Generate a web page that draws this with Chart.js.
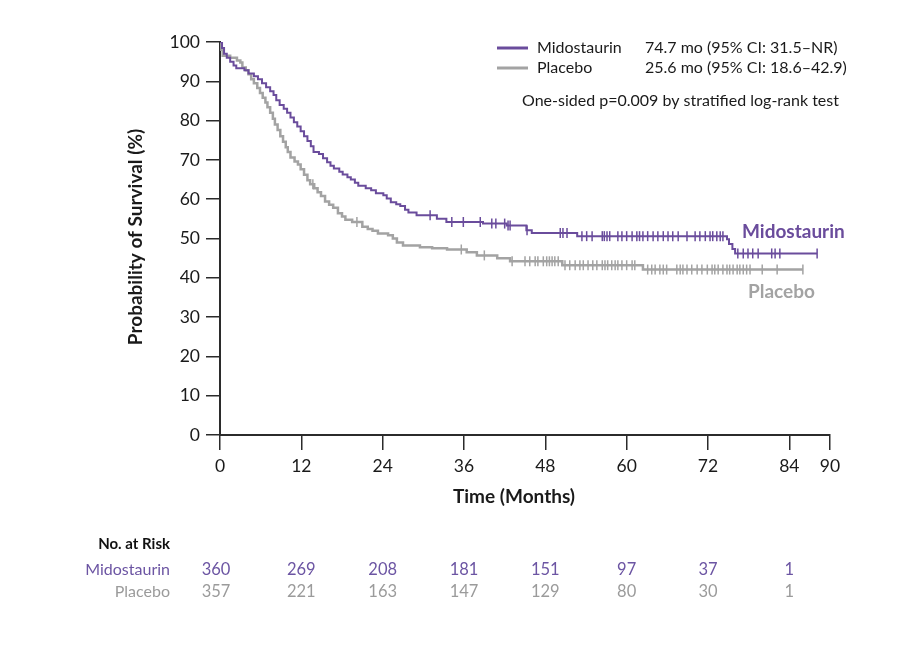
<!DOCTYPE html>
<html>
<head>
<meta charset="utf-8">
<script src="https://cdn.jsdelivr.net/npm/chart.js@4.4.1/dist/chart.umd.min.js"></script>
<style>
  html, body { margin: 0; padding: 0; background: #ffffff; }
  #wrap { width: 902px; height: 656px; position: relative; }
</style>
</head>
<body>
<div id="wrap"><canvas id="c" width="902" height="656"></canvas></div>
<script>
// ---- Data ----
const seriesNames = ["Midostaurin", "Placebo"];
const medianText = ["74.7 mo (95% CI: 31.5\u2013NR)", "25.6 mo (95% CI: 18.6\u201342.9)"];
const pText = "One-sided p=0.009 by stratified log-rank test";

// Kaplan-Meier steps: time (months) and survival (%) after each drop
const midoT = [0,0.3,0.6,1.0,1.5,2.0,2.4,3.6,4.2,5.0,5.6,6.2,6.8,7.4,7.9,8.3,8.8,9.4,9.9,10.4,10.9,11.4,11.9,12.4,12.9,13.4,13.8,14.6,15.2,15.8,16.3,16.8,17.6,18.1,18.8,19.3,19.9,20.4,21.5,22.3,23.0,24.1,24.6,25.2,26.0,26.6,27.3,27.8,29.0,32.0,33.4,38.8,42.3,45.2,46.0,52.7,74.8,75.1,75.6,76.0,88.1];
const midoS = [100,98.5,97,96,95,94,93.3,92.8,92,91.3,90.5,89.5,88.5,87.5,86.5,85.2,84,83,82,80.8,79.6,78.5,77.3,76,74.8,73.5,72,71.5,70.4,69.4,68.5,67.8,67,66.3,65.6,65,64.2,63.4,62.8,62.3,61.5,61,60.2,59.2,58.7,58.3,57.3,56.6,55.9,55.0,54.2,53.8,53.3,52.1,51.4,50.6,49.8,48.6,47.3,46.2,46.2];

const placT = [0,0.2,0.4,1.5,2.5,3.0,3.3,3.8,4.2,4.6,5.0,5.5,5.9,6.3,6.7,7.0,7.4,7.8,8.1,8.5,8.9,9.3,9.7,10.0,10.4,11.0,11.5,11.9,12.4,12.9,13.3,13.9,14.4,14.9,15.5,16.1,16.7,17.4,18.0,18.5,19.5,21.0,21.8,22.5,23.3,24.8,25.5,26.1,27.0,29.5,31.3,33.5,36.4,37.9,40.9,42.8,50.5,62.4,86.0];
const placS = [100,98,96.5,96,95.3,94.8,93.5,92.8,91.8,90.5,89.5,88.3,87,85.8,84.6,83.4,82,80.5,79,77.6,76,74.6,73.2,72,70.6,69.6,68.8,67.6,66.2,64.8,63.8,62.8,61.8,60.8,59.4,58.6,57.8,56.4,55.6,54.8,54.2,53.0,52.4,52.0,51.3,50.8,50.0,49.0,48.2,47.8,47.5,47.2,46.5,45.7,45.0,44.2,43.2,42.1,42.1];

// Censor marks: time and survival level
const midoCensT = [31.0,34.2,35.9,38.4,40.1,40.7,42.0,42.5,42.8,45.3,50.2,50.6,51.2,53.4,54.1,54.9,56.4,56.7,57.1,57.5,58.7,59.3,60.0,60.8,61.5,61.9,62.4,63.1,63.9,64.6,65.4,66.1,66.8,67.6,68.9,70.1,70.8,71.6,72.3,72.7,73.3,73.8,74.2,76.4,77.2,77.9,78.6,79.4,81.4,81.9,82.6,88.1];
const midoCensS = [55.9,54.2,54.2,54.2,53.8,53.8,53.8,53.3,53.3,52.1,51.4,51.4,51.4,50.6,50.6,50.6,50.6,50.6,50.6,50.6,50.6,50.6,50.6,50.6,50.6,50.6,50.6,50.6,50.6,50.6,50.6,50.6,50.6,50.6,50.6,50.6,50.6,50.6,50.6,50.6,50.6,50.6,50.6,46.2,46.2,46.2,46.2,46.2,46.2,46.2,46.2,46.2];

const placCensT = [13.7,20.2,35.6,39.0,43.1,45.0,45.7,46.5,46.9,47.7,48.2,48.6,49.0,49.4,49.9,50.9,51.6,52.4,53.1,53.6,54.3,55.0,55.6,56.4,56.8,57.2,57.8,58.3,58.7,59.3,60.0,60.8,61.2,63.1,63.7,64.2,64.9,65.4,65.9,67.4,67.9,68.3,68.9,69.6,70.4,71.1,71.9,72.6,73.0,73.5,74.2,74.8,75.2,75.7,76.3,76.7,77.2,77.7,78.2,80.0,82.2,86.0];
const placCensS = [63.8,54.2,47.2,45.7,44.2,44.2,44.2,44.2,44.2,44.2,44.2,44.2,44.2,44.2,44.2,43.2,43.2,43.2,43.2,43.2,43.2,43.2,43.2,43.2,43.2,43.2,43.2,43.2,43.2,43.2,43.2,43.2,43.2,42.1,42.1,42.1,42.1,42.1,42.1,42.1,42.1,42.1,42.1,42.1,42.1,42.1,42.1,42.1,42.1,42.1,42.1,42.1,42.1,42.1,42.1,42.1,42.1,42.1,42.1,42.1,42.1,42.1];

const xTicks = [0,12,24,36,48,60,72,84,90];
const riskTimes = [0,12,24,36,48,60,72,84];
const midoRisk = [360,269,208,181,151,97,37,1];
const placRisk = [357,221,163,147,129,80,30,1];

// ---- Styling ----
const PURPLE = "#6a4c9c";
const GRAY = "#a3a3a3";
const PURPLE_TXT = "#6c55a3";
const GRAY_TXT = "#9b9b9b";
const AXIS = "#2b2b2b";
const FONT = "Lato, 'Open Sans', sans-serif";

const zip = (a, b) => a.map((v, i) => ({ x: v, y: b[i] }));

const annotations = {
  id: "annotations",
  afterDraw(chart) {
    const ctx = chart.ctx;
    const xs = chart.scales.x;
    ctx.save();
    // axis titles
    ctx.fillStyle = "#1a1a1a";
    ctx.font = "bold 19px " + FONT;
    ctx.textAlign = "center";
    ctx.textBaseline = "middle";
    ctx.fillText("Time (Months)", 514, 497);
    ctx.save();
    ctx.translate(136, 237);
    ctx.rotate(-Math.PI / 2);
    ctx.fillText("Probability of Survival (%)", 0, 0);
    ctx.restore();

    // legend
    const legY = [48, 68];
    const legCol = [PURPLE, GRAY];
    for (let i = 0; i < 2; i++) {
      ctx.strokeStyle = legCol[i];
      ctx.lineWidth = 3;
      ctx.beginPath();
      ctx.moveTo(497, legY[i]);
      ctx.lineTo(528, legY[i]);
      ctx.stroke();
      ctx.fillStyle = "#1a1a1a";
      ctx.font = "16px " + FONT;
      ctx.textAlign = "left";
      ctx.fillText(seriesNames[i], 537, legY[i]);
      ctx.fillText(medianText[i], 645, legY[i]);
    }
    ctx.textAlign = "left";
    ctx.fillText(pText, 522, 101);

    // curve labels
    ctx.font = "bold 19px " + FONT;
    ctx.fillStyle = PURPLE;
    ctx.fillText("Midostaurin", 742, 232);
    ctx.fillStyle = GRAY;
    ctx.fillText("Placebo", 748, 292);

    // number at risk table
    ctx.textAlign = "right";
    ctx.fillStyle = "#111";
    ctx.font = "bold 15px " + FONT;
    ctx.fillText("No. at Risk", 170, 544);
    ctx.font = "16px " + FONT;
    ctx.fillStyle = PURPLE_TXT;
    ctx.fillText(seriesNames[0], 170, 570);
    ctx.fillStyle = GRAY_TXT;
    ctx.fillText(seriesNames[1], 170, 592);
    ctx.textAlign = "center";
    ctx.font = "16.5px " + FONT;
    riskTimes.forEach((t, i) => {
      const px = xs.getPixelForValue(t) - (i === 0 ? 4 : 0);
      ctx.fillStyle = PURPLE_TXT;
      ctx.fillText(String(midoRisk[i]), px, 570);
      ctx.fillStyle = GRAY_TXT;
      ctx.fillText(String(placRisk[i]), px, 592);
    });
    ctx.restore();
  }
};

Chart.defaults.font.family = FONT;

new Chart(document.getElementById("c"), {
  type: "line",
  data: {
    datasets: [
      {
        label: "Midostaurin",
        data: zip(midoT, midoS),
        borderColor: PURPLE,
        borderWidth: 2,
        stepped: true,
        pointRadius: 0,
        fill: false
      },
      {
        label: "Midostaurin censored",
        data: zip(midoCensT, midoCensS),
        showLine: false,
        pointStyle: "line",
        rotation: 90,
        pointRadius: 5,
        borderColor: PURPLE,
        backgroundColor: PURPLE,
        pointBorderWidth: 1.5
      },
      {
        label: "Placebo",
        data: zip(placT, placS),
        borderColor: GRAY,
        borderWidth: 2.5,
        stepped: true,
        pointRadius: 0,
        fill: false
      },
      {
        label: "Placebo censored",
        data: zip(placCensT, placCensS),
        showLine: false,
        pointStyle: "line",
        rotation: 90,
        pointRadius: 5,
        borderColor: GRAY,
        backgroundColor: GRAY,
        pointBorderWidth: 1.5
      }
    ]
  },
  options: {
    responsive: false,
    animation: false,
    layout: { padding: { top: 42, right: 72, bottom: 0, left: 0 } },
    plugins: { legend: { display: false }, tooltip: { enabled: false } },
    scales: {
      x: {
        type: "linear",
        min: 0,
        max: 90,
        afterBuildTicks: (s) => { s.ticks = xTicks.map(v => ({ value: v })); },
        afterFit: (s) => { s.height = 221; },
        ticks: { color: "#1a1a1a", font: { size: 17.5 }, padding: 6, autoSkip: false, maxRotation: 0 },
        grid: { drawOnChartArea: false, drawTicks: true, tickLength: 15, color: AXIS, lineWidth: 1.5 },
        border: { display: true, color: AXIS, width: 2 }
      },
      y: {
        type: "linear",
        min: 0,
        max: 100,
        ticks: { stepSize: 10, color: "#1a1a1a", font: { size: 17.5 }, padding: 6 },
        afterFit: (s) => { s.width = 220; },
        grid: { drawOnChartArea: false, drawTicks: true, tickLength: 14, color: AXIS, lineWidth: 1.5 },
        border: { display: true, color: AXIS, width: 2 }
      }
    }
  },
  plugins: [annotations]
});
</script>
</body>
</html>
